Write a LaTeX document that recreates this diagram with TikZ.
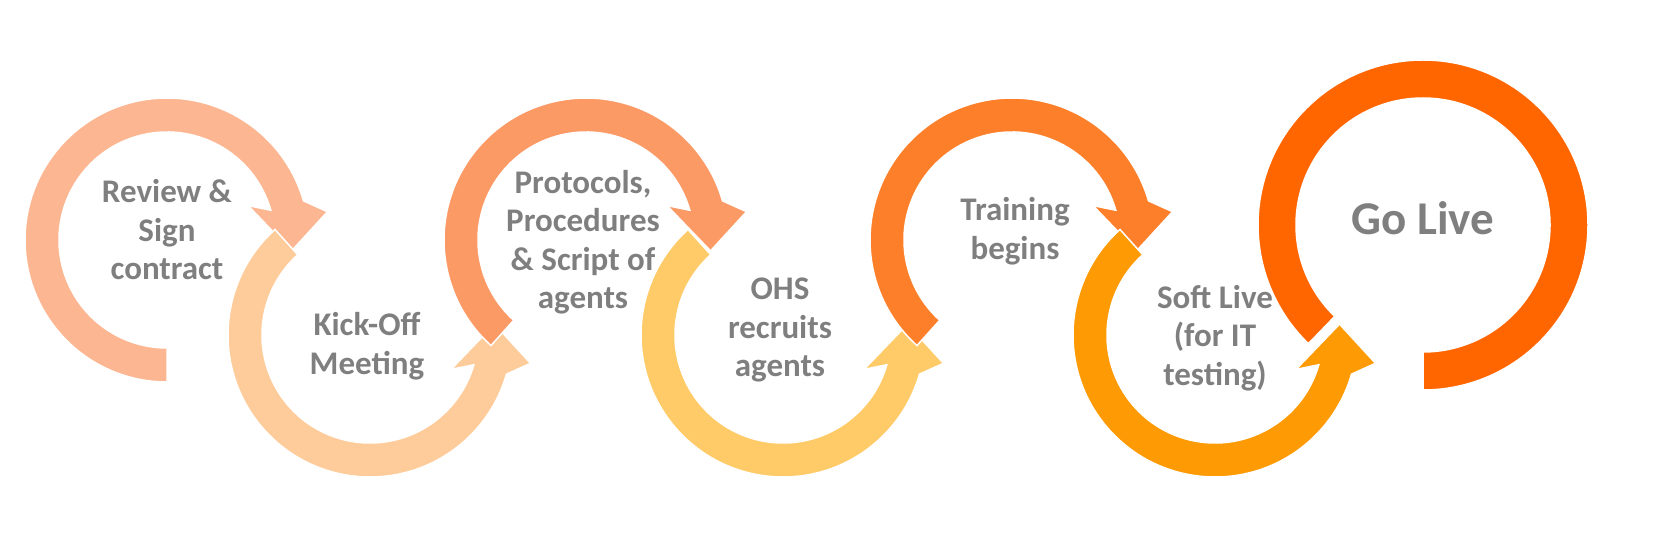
\documentclass[tikz,border=0pt]{standalone}
\usepackage{fontspec}
\setmainfont{Carlito}
\usetikzlibrary{calc}
\definecolor{cA}{HTML}{FCB792}
\definecolor{cB}{HTML}{FECC9A}
\definecolor{cC}{HTML}{FC9A66}
\definecolor{cD}{HTML}{FECB68}
\definecolor{cE}{HTML}{FD7F2A}
\definecolor{cF}{HTML}{FD9A04}
\definecolor{cG}{HTML}{FF6600}
\definecolor{txt}{HTML}{7F7F7F}
\tikzset{
  ring/.style={draw=white, line width=1.5pt, line join=miter},
  lbl/.style={text=txt, font=\bfseries\fontsize{33}{38.5}\selectfont, align=center},
}
\newcommand{\uparcpath}[2]{($#1+(#2:142)$) arc[start angle=#2, end angle=16, radius=142]
    -- ($#1+(10:163)$) -- ($#1+(-5:125)$) -- ($#1+(23:88)$) -- ($#1+(16:108)$)
    arc[start angle=16, end angle=#2, radius=108] -- cycle}
\newcommand{\loarcpath}[2]{($#1+(#2:142)$) arc[start angle=#2, end angle=344, radius=142]
    -- ($#1+(350:163)$) -- ($#1+(365:125)$) -- ($#1+(337:88)$) -- ($#1+(344:108)$)
    arc[start angle=344, end angle=#2, radius=108] -- cycle}
\newcommand{\uparc}[3]{\fill[#3] \uparcpath{#1}{#2}; \draw[ring] \uparcpath{#1}{#2};}
\newcommand{\loarc}[3]{\fill[#3] \loarcpath{#1}{#2}; \draw[ring] \loarcpath{#1}{#2};}
\begin{document}
\begin{tikzpicture}[x=1pt,y=1pt]
\useasboundingbox (0,0) rectangle (1663,536);
\coordinate (c1) at (167,296);
\coordinate (c2) at (370,201);
\coordinate (c3) at (586,296);
\coordinate (c4) at (783,201);
\coordinate (c5) at (1012,296);
\coordinate (c6) at (1215,201);
\coordinate (c7) at (1423,311);
\uparc{(c1)}{270}{cA}
\loarc{(c2)}{132}{cB}
\uparc{(c3)}{228}{cC}
\loarc{(c4)}{132}{cD}
\uparc{(c5)}{228}{cE}
\loarc{(c6)}{132}{cF}
\fill[cG] ($(c7)+(-90:165)$) arc[start angle=-90, end angle=226, radius=165]
  -- ($(c7)+(226:127)$) arc[start angle=226, end angle=-90, radius=127] -- cycle;
\draw[ring] ($(c7)+(-90:165)$) arc[start angle=-90, end angle=226, radius=165]
  -- ($(c7)+(226:127)$) arc[start angle=226, end angle=-90, radius=127] -- cycle;
\node[lbl] (t1) at (167,306) {Review \&\\Sign\\contract};
\node[lbl] (t2) at (367,190) {Kick-Off\\Meeting};
\node[lbl] (t3) at (583,294) {Protocols,\\Procedures\\\& Script of\\agents};
\node[lbl] (t4) at (780,206) {OHS\\recruits\\agents};
\node[lbl] (t5) at (1015,305) {Training\\begins};
\node[lbl] (t6) at (1215,198) {Soft Live\\(for IT\\testing)};
\node[lbl, font=\bfseries\fontsize{47}{50}\selectfont] (t7) at (1423,318) {Go Live};
\end{tikzpicture}
\end{document}
